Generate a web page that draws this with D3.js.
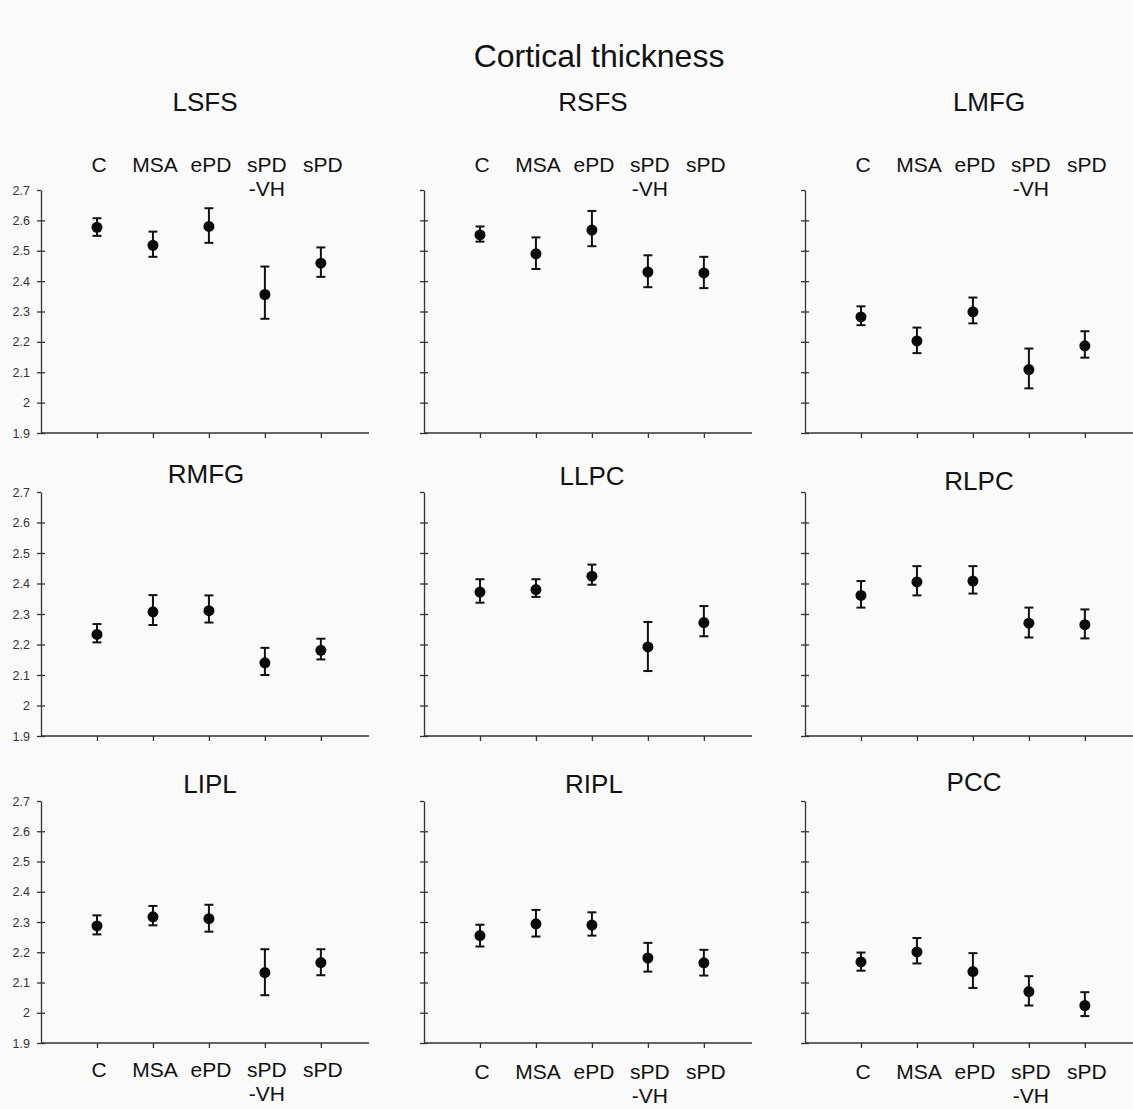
<!DOCTYPE html>
<html>
<head>
<meta charset="utf-8">
<script src="https://cdn.jsdelivr.net/npm/d3@7"></script>
<style>
  body { margin: 0; background: #fafafa; }
  svg { display: block; font-family: "Liberation Sans", Arial, sans-serif; }
</style>
</head>
<body>
<script>
// groups on the x axis, one label line per entry
var groups = ["C", "MSA", "ePD", "sPD-VH", "sPD"];
var groupLabels = [["C"], ["MSA"], ["ePD"], ["sPD", "-VH"], ["sPD"]];
var regions = ["LSFS", "RSFS", "LMFG", "RMFG", "LLPC", "RLPC", "LIPL", "RIPL", "PCC"];
var yTicks = [1.9, 2.0, 2.1, 2.2, 2.3, 2.4, 2.5, 2.6, 2.7];

// mean thickness per region (rows) and group (columns)
var means = [
  [2.577, 2.518, 2.580, 2.356, 2.459],
  [2.552, 2.490, 2.568, 2.430, 2.427],
  [2.282, 2.203, 2.299, 2.109, 2.187],
  [2.233, 2.307, 2.311, 2.140, 2.181],
  [2.372, 2.380, 2.424, 2.192, 2.272],
  [2.361, 2.405, 2.408, 2.270, 2.265],
  [2.287, 2.317, 2.311, 2.133, 2.166],
  [2.255, 2.294, 2.290, 2.181, 2.165],
  [2.168, 2.201, 2.136, 2.070, 2.024]
];
// upper end of error bar
var upper = [
  [2.607, 2.563, 2.640, 2.448, 2.511],
  [2.580, 2.544, 2.631, 2.485, 2.480],
  [2.317, 2.247, 2.346, 2.178, 2.235],
  [2.267, 2.362, 2.361, 2.189, 2.219],
  [2.414, 2.414, 2.462, 2.274, 2.326],
  [2.408, 2.457, 2.457, 2.321, 2.315],
  [2.322, 2.353, 2.357, 2.210, 2.210],
  [2.291, 2.340, 2.332, 2.231, 2.208],
  [2.199, 2.247, 2.197, 2.121, 2.068]
];
// lower end of error bar
var lower = [
  [2.549, 2.480, 2.526, 2.276, 2.414],
  [2.530, 2.440, 2.515, 2.380, 2.377],
  [2.255, 2.163, 2.261, 2.047, 2.148],
  [2.207, 2.264, 2.272, 2.100, 2.151],
  [2.337, 2.356, 2.396, 2.113, 2.227],
  [2.321, 2.361, 2.367, 2.223, 2.220],
  [2.259, 2.289, 2.268, 2.058, 2.124],
  [2.219, 2.252, 2.255, 2.136, 2.123],
  [2.139, 2.163, 2.082, 2.024, 1.989]
];

var W = 1133, H = 1109;

// panel layout
var colX = [41, 424, 805];
var rowTop = [190, 492, 801];
var rowBottom = [433, 736, 1043];
var titleX = [205, 593, 989, 206, 592, 979, 210, 594, 974];
var titleY = [111, 111, 111, 483, 485, 490, 793, 793, 791];
var labelY = [172, 172, 172, 1077, 1079, 1079];

var svg = d3.select("body").append("svg")
  .attr("width", W)
  .attr("height", H);

svg.append("rect").attr("width", W).attr("height", H).attr("fill", "#fafafa");

svg.append("text")
  .attr("x", 599).attr("y", 67)
  .attr("text-anchor", "middle")
  .style("font-size", "32px")
  .attr("fill", "#111")
  .text("Cortical thickness");

regions.forEach(function(name, i) {
  var col = i % 3, row = Math.floor(i / 3);
  var x0 = colX[col];

  var x = d3.scaleLinear().domain([0, 5.86]).range([x0, x0 + 328]);
  var y = d3.scaleLinear().domain([1.9, 2.7]).range([rowBottom[row], rowTop[row]]);

  var g = svg.append("g");

  // y axis
  var yAxis = d3.axisLeft(y)
    .tickValues(yTicks)
    .tickSizeInner(4)
    .tickSizeOuter(0)
    .tickFormat(function(d) { return col == 0 ? d3.format("~g")(d) : ""; });
  var ya = g.append("g")
    .attr("transform", "translate(" + x0 + ",0)")
    .call(yAxis);
  ya.selectAll(".tick line").attr("x1", 4);
  ya.selectAll(".tick").filter(function(d) { return d == 2.7; }).select("line").attr("x1", 0);
  ya.selectAll(".tick text")
    .attr("x", -11)
    .style("font-size", "12.5px")
    .style("font-family", "'Liberation Sans', Arial, sans-serif")
    .attr("fill", "#333");
  ya.selectAll("path, line").attr("stroke", "#333").attr("stroke-width", 1.3);

  // x axis
  var xAxis = d3.axisBottom(x)
    .tickValues([1, 2, 3, 4, 5])
    .tickSizeInner(5)
    .tickSizeOuter(0)
    .tickFormat("");
  var xa = g.append("g")
    .attr("transform", "translate(0," + rowBottom[row] + ")")
    .call(xAxis);
  xa.select(".domain").attr("d", "M" + x0 + ",0H" + (x0 + 328));
  xa.selectAll("path, line").attr("stroke", "#333").attr("stroke-width", 1.3);

  // panel title
  g.append("text")
    .attr("x", titleX[i]).attr("y", titleY[i])
    .attr("text-anchor", "middle")
    .style("font-size", "26px")
    .attr("fill", "#111")
    .text(name);

  // error bars and means
  var pts = groups.map(function(gr, j) {
    return {k: j + 1, m: means[i][j], hi: upper[i][j], lo: lower[i][j]};
  });

  var eb = g.selectAll(".eb").data(pts).enter().append("g")
    .attr("stroke", "#111").attr("stroke-width", 2);
  eb.append("line")
    .attr("x1", function(d) { return x(d.k); })
    .attr("x2", function(d) { return x(d.k); })
    .attr("y1", function(d) { return y(d.hi); })
    .attr("y2", function(d) { return y(d.lo); });
  eb.append("line")
    .attr("x1", function(d) { return x(d.k) - 4.5; })
    .attr("x2", function(d) { return x(d.k) + 4.5; })
    .attr("y1", function(d) { return y(d.hi); })
    .attr("y2", function(d) { return y(d.hi); });
  eb.append("line")
    .attr("x1", function(d) { return x(d.k) - 4.5; })
    .attr("x2", function(d) { return x(d.k) + 4.5; })
    .attr("y1", function(d) { return y(d.lo); })
    .attr("y2", function(d) { return y(d.lo); });

  g.selectAll(".dot").data(pts).enter().append("circle")
    .attr("cx", function(d) { return x(d.k); })
    .attr("cy", function(d) { return y(d.m); })
    .attr("r", 5.5)
    .attr("fill", "#0a0a0a");

  // group labels above the top row and below the bottom row
  if (row == 0 || row == 2) {
    var ly = labelY[(row == 0 ? 0 : 3) + col];
    groupLabels.forEach(function(lines, j) {
      lines.forEach(function(s, n) {
        g.append("text")
          .attr("text-anchor", "middle")
          .style("font-size", "21px")
          .attr("fill", "#111")
          .attr("x", x(j + 1) + 2)
          .attr("y", ly + n * 24)
          .text(s);
      });
    });
  }
});
</script>
</body>
</html>
